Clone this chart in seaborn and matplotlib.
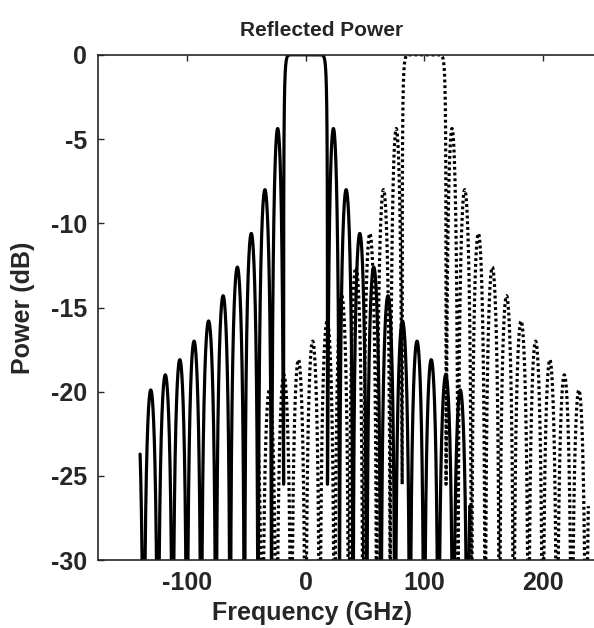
import numpy as np
import pandas as pd
import matplotlib
matplotlib.use("Agg")
import matplotlib.pyplot as plt
import seaborn as sns

# filter centre frequencies (GHz): solid = channel at 0, dotted = channel at 100
centers = [0, 100]
# frequency span of each trace relative to its centre (GHz)
span = (-139.5, 138.5)
# null positions (offset from centre, GHz)
null_offsets = [18.5, 28.5, 40, 51.5, 63.5, 75.5, 88, 100, 112, 124.5, 136.5, 148.5]
# side-lobe peak levels (dB), lobe k sits between null k and null k+1
lobe_peaks_db = [-4.4, -8.0, -10.6, -12.6, -14.3, -15.8, -17.0, -18.1, -19.0, -19.9, -20.7]
# depth of the first null next to the passband (dB); the others fall off the axis
first_null_db = -25.5

x_ticks = [-100, 0, 100, 200]
y_ticks = [0, -5, -10, -15, -20, -25, -30]


def trace(center):
    off = np.arange(span[0], span[1], 0.02)
    u = np.abs(off)
    floor = np.full_like(u, 1e-6)
    floor[u < null_offsets[1]] = 10 ** (first_null_db / 10)
    p = np.zeros_like(u)
    main = u <= null_offsets[0]
    p[main] = 1 - (u[main] / null_offsets[0]) ** 20
    for k, pk in enumerate(lobe_peaks_db):
        a, b = null_offsets[k], null_offsets[k + 1]
        m = (u > a) & (u <= b)
        p[m] = 10 ** (pk / 10) * np.sin(np.pi * (u[m] - a) / (b - a)) ** 2
    return pd.DataFrame({"freq": off + center, "power": 10 * np.log10(p + floor)})


sns.set_style("ticks")
plt.rcParams["font.family"] = ["Liberation Sans", "DejaVu Sans"]
plt.rcParams["font.weight"] = "bold"
plt.rcParams["axes.unicode_minus"] = False

fig = plt.figure(figsize=(5.94, 6.28), dpi=100)
ax = fig.add_axes([98 / 594, 1 - 560 / 628, 504 / 594, 505 / 628])

solid = trace(centers[0])
dotted = trace(centers[1])
sns.lineplot(data=solid, x="freq", y="power", color="black", lw=2.3,
             estimator=None, sort=False, ax=ax)
sns.lineplot(data=dotted, x="freq", y="power", color="black", lw=2.3,
             linestyle=(0, (0.9, 0.9)), estimator=None, sort=False, ax=ax)

ax.set_xlim(-175, 250)
ax.set_ylim(-30, 0)
ax.set_xticks(x_ticks)
ax.set_yticks(y_ticks)
ax.tick_params(direction="in", top=True, right=True, length=4, width=1,
               labelsize=18, pad=8)
for lab in ax.get_xticklabels() + ax.get_yticklabels():
    lab.set_fontweight("bold")
for s in ax.spines.values():
    s.set_linewidth(1.2)

ax.set_title("Reflected Power", fontsize=15, fontweight="bold", x=0.444, pad=14)
ax.set_xlabel("Frequency (GHz)", fontsize=18, fontweight="bold")
ax.set_ylabel("Power (dB)", fontsize=18, fontweight="bold")
ax.xaxis.set_label_coords(0.425, -0.081)
ax.yaxis.set_label_coords(-0.125, 0.5)

fig.savefig("out.png", dpi=100)
